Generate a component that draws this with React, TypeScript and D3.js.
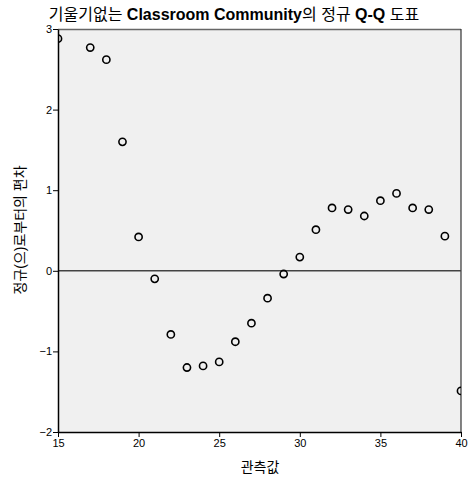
import { useEffect, useRef } from 'react';
import * as d3 from 'd3';

// observed values and their deviation from normal
const observed = [15, 17, 18, 19, 20, 21, 22, 23, 24, 25, 26, 27, 28, 29, 30, 31, 32, 33, 34, 35, 36, 37, 38, 39, 40];
const deviation = [2.88, 2.77, 2.62, 1.60, 0.42, -0.10, -0.79, -1.20, -1.18, -1.13, -0.88, -0.65, -0.34, -0.04, 0.17, 0.51, 0.78, 0.76, 0.68, 0.87, 0.96, 0.78, 0.76, 0.43, -1.49];
const xTicks = [15, 20, 25, 30, 35, 40];
const yTicks = [-2, -1, 0, 1, 2, 3];

const titleParts = [
    { text: '기울기없는 ', bold: false },
    { text: 'Classroom Community', bold: true },
    { text: '의 정규 ', bold: false },
    { text: 'Q-Q', bold: true },
    { text: ' 도표', bold: false },
];

const FONT = '"Liberation Sans", Arial, "Noto Sans CJK KR", sans-serif';

const App = () => {
    const svgRef = useRef<SVGSVGElement>(null);
    const width = 474;
    const height = 479;
    const margin = { top: 29, right: 13, bottom: 47, left: 58 };

    useEffect(() => {
        if (!svgRef.current) return;
        d3.select(svgRef.current).selectAll('*').remove();

        const innerWidth = width - margin.left - margin.right;
        const innerHeight = height - margin.top - margin.bottom;

        const svg = d3.select(svgRef.current)
            .attr('width', width)
            .attr('height', height)
            .style('display', 'block')
            .style('background', '#ffffff');

        const g = svg.append('g')
            .attr('transform', `translate(${margin.left},${margin.top})`);

        const x = d3.scaleLinear().domain([15, 40]).range([0, innerWidth]);
        const y = d3.scaleLinear().domain([-2, 3]).range([innerHeight, 0]);

        // panel
        g.append('rect')
            .attr('width', innerWidth)
            .attr('height', innerHeight)
            .attr('fill', '#f0f0f0')
            .attr('stroke', 'none');

        g.append('line')
            .attr('x1', 0).attr('x2', innerWidth)
            .attr('y1', 0.5).attr('y2', 0.5)
            .attr('stroke', '#666').attr('stroke-width', 1.5);
        g.append('line')
            .attr('x1', innerWidth).attr('x2', innerWidth)
            .attr('y1', 0).attr('y2', innerHeight)
            .attr('stroke', '#333').attr('stroke-width', 1.2);

        // clip for points
        svg.append('defs').append('clipPath')
            .attr('id', 'plot-clip')
            .append('rect')
            .attr('width', innerWidth)
            .attr('height', innerHeight);

        // zero reference line
        g.append('line')
            .attr('x1', 0).attr('x2', innerWidth)
            .attr('y1', y(0)).attr('y2', y(0))
            .attr('stroke', '#444').attr('stroke-width', 1.5);

        // points
        g.append('g')
            .attr('clip-path', 'url(#plot-clip)')
            .selectAll('circle')
            .data(observed)
            .enter()
            .append('circle')
            .attr('cx', d => x(d))
            .attr('cy', (_d, i) => y(deviation[i]))
            .attr('r', 3.6)
            .attr('fill', 'none')
            .attr('stroke', '#000')
            .attr('stroke-width', 1.6);

        // axes
        const xAxis = g.append('g')
            .attr('transform', `translate(0,${innerHeight})`)
            .call(d3.axisBottom(x).tickValues(xTicks).tickSize(5).tickPadding(2).tickSizeOuter(0));
        const yAxis = g.append('g')
            .call(d3.axisLeft(y).tickValues(yTicks).tickFormat(d3.format('d')).tickSize(5).tickPadding(1).tickSizeOuter(0));

        [xAxis, yAxis].forEach(a => {
            a.select('.domain').attr('stroke', '#000').attr('stroke-width', 1.5);
            a.selectAll('.tick line').attr('stroke', '#000');
            a.selectAll('.tick text')
                .attr('fill', '#000')
                .style('font-family', FONT)
                .style('font-size', '11px');
        });

        // title
        const title = svg.append('text')
            .attr('x', 234)
            .attr('y', 20)
            .attr('text-anchor', 'middle')
            .style('font-family', FONT)
            .style('font-size', '16px')
            .attr('fill', '#000');
        titleParts.forEach(p => {
            title.append('tspan')
                .style('font-weight', p.bold ? 'bold' : 'normal')
                .text(p.text);
        });

        // axis labels
        svg.append('text')
            .attr('x', 260)
            .attr('y', 472)
            .attr('text-anchor', 'middle')
            .style('font-family', FONT)
            .style('font-size', '14px')
            .attr('fill', '#000')
            .text('관측값');

        svg.append('text')
            .attr('transform', `translate(25,230) rotate(-90)`)
            .attr('text-anchor', 'middle')
            .style('font-family', FONT)
            .style('font-size', '14px')
            .attr('fill', '#000')
            .text('정규(으)로부터의 편차');
    }, []);

    return (
        <div style={{ position: 'absolute', left: 0, top: 0 }}>
            <svg ref={svgRef} role="img" aria-label="Normal Q-Q plot"></svg>
        </div>
    );
};

export default App;
